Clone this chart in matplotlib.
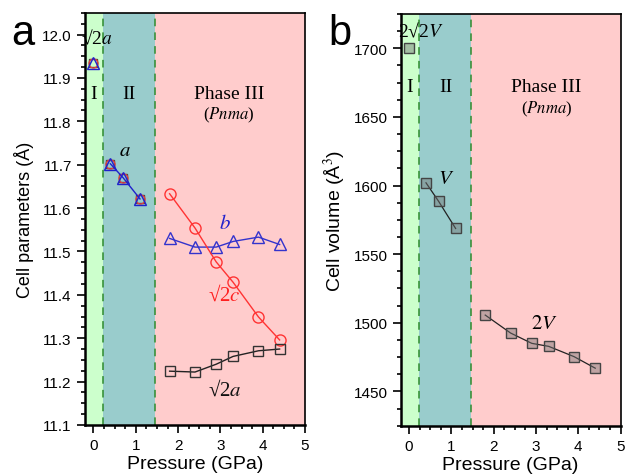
import matplotlib
matplotlib.use("Agg")
import matplotlib.pyplot as plt
from matplotlib.ticker import MultipleLocator

plt.rcParams['font.family'] = ['Liberation Sans', 'DejaVu Sans']
plt.rcParams['mathtext.fontset'] = 'stix'

# ---- data ----
p_I = [0.0]
p_II = [0.4, 0.7, 1.1]
p_III = [1.8, 2.4, 2.9, 3.3, 3.9, 4.4]

a_I = [11.935]
a_II = [11.702, 11.670, 11.621]
b_III = [11.530, 11.510, 11.510, 11.523, 11.533, 11.516]
c_III = [11.633, 11.554, 11.476, 11.429, 11.349, 11.296]
a_III = [11.224, 11.222, 11.240, 11.258, 11.271, 11.275]

V_I = [1700.0]
V_II = [1602.0, 1588.4, 1568.7]
V_III = [1505.6, 1492.5, 1485.0, 1482.8, 1475.3, 1466.9]

bounds = [0.23, 1.46]
xlim = (-0.2, 5.0)

fig = plt.figure(figsize=(6.25, 4.77), dpi=100)
axA = fig.add_axes([0.136, 0.107, 0.352, 0.864])
axB = fig.add_axes([0.641, 0.1055, 0.352, 0.863])

serif = ['Liberation Serif', 'DejaVu Serif']

def setup(ax):
    ax.axvspan(xlim[0], bounds[0], color='#ccffcc', zorder=0, lw=0)
    ax.axvspan(bounds[0], bounds[1], color='#99cccc', zorder=0, lw=0)
    ax.axvspan(bounds[1], xlim[1], color='#ffcccc', zorder=0, lw=0)
    for b in bounds:
        ax.axvline(b, color='#2e8b2e', ls=(0, (5, 4)), lw=1.1, zorder=1)
    ax.set_xlim(*xlim)
    ax.xaxis.set_major_locator(MultipleLocator(1))
    ax.xaxis.set_minor_locator(MultipleLocator(0.25))
    ax.tick_params(which='both', direction='out', labelsize=11, width=1.2, pad=4)
    ax.tick_params(which='major', length=5.5)
    ax.tick_params(which='minor', length=3)
    for s in ['left', 'bottom']:
        ax.spines[s].set_linewidth(1.8)
    for s in ['top', 'right']:
        ax.spines[s].set_linewidth(1.2)
    ax.set_xlabel('Pressure (GPa)', fontsize=14, labelpad=2)

# ---- panel a ----
setup(axA)
axA.set_ylim(11.1, 12.05)
axA.yaxis.set_major_locator(MultipleLocator(0.1))
axA.yaxis.set_minor_locator(MultipleLocator(0.025))
axA.yaxis.set_major_formatter(matplotlib.ticker.FormatStrFormatter('%.1f'))
axA.set_ylabel('Cell parameters (Å)', fontsize=13, labelpad=6)

ms = 7
# phase I and II: all three coincide
for pp, vv, ln in [(p_I, a_I, False), (p_II, a_II, True)]:
    axA.plot(pp, vv, ls='none', marker='s', ms=ms - 1, mfc='none', mec='#444444', mew=1, zorder=3)
    axA.plot(pp, vv, ls='none', marker='o', ms=ms - 0.5, mfc='none', mec='#e04040', mew=1, zorder=3)
    axA.plot(pp, vv, ls='-' if ln else 'none', color='#2020cc', lw=1, marker='^', ms=ms + 1,
             mfc='none', mec='#2020cc', mew=1, zorder=4)

axA.plot(p_III, b_III, '-', color='#3333cc', lw=1, marker='^', ms=ms + 1, mfc='none', mec='#3333cc', mew=1, zorder=4)
axA.plot(p_III, c_III, '-', color='#ff3333', lw=1, marker='o', ms=ms + 1, mfc='none', mec='#ff3333', mew=1, zorder=4)
axA.plot(p_III, a_III, '-', color='#222222', lw=1, marker='s', ms=ms, mfc='none', mec='#333333', mew=1, zorder=4)

axA.text(0.07, 11.993, '√2$a$', family=serif, fontsize=14, ha='center', va='center', zorder=5)
axA.text(0.0, 11.865, 'I', family=serif, fontsize=14, ha='center', va='center')
axA.text(0.84, 11.865, 'II', family=serif, fontsize=14, ha='center', va='center')
axA.text(3.2, 11.865, 'Phase III', family=serif, fontsize=14, ha='center', va='center')
axA.text(3.2, 11.815, '($Pnma$)', family=serif, fontsize=12, ha='center', va='center')
axA.text(0.75, 11.735, '$a$', fontsize=15, ha='center', va='center')
axA.text(3.1, 11.567, '$b$', fontsize=15, ha='center', va='center', color='#2020cc')
axA.text(3.1, 11.40, '√2$c$', family=serif, fontsize=15, ha='center', va='center', color='#ff2020')
axA.text(3.1, 11.183, '√2$a$', family=serif, fontsize=15, ha='center', va='center', color='#111111')

fig.text(0.018, 0.905, 'a', fontsize=30, ha='left', va='baseline')

# ---- panel b ----
setup(axB)
axB.set_ylim(1425, 1725)
axB.yaxis.set_major_locator(MultipleLocator(50))
axB.yaxis.set_minor_locator(MultipleLocator(12.5))
axB.set_ylabel('Cell volume (Å$^3$)', fontsize=14, labelpad=4)

sq = dict(marker='s', ms=7, mfc=(0.45, 0.45, 0.45, 0.45), mec='#444444', mew=1, zorder=4)
axB.plot(p_I, V_I, ls='none', **sq)
axB.plot(p_II, V_II, '-', color='#222222', lw=0.9, **sq)
axB.plot(p_III, V_III, '-', color='#222222', lw=0.9, **sq)

axB.text(0.27, 1713, '2√2$V$', family=serif, fontsize=14, ha='center', va='center', zorder=5)
axB.text(0.0, 1672, 'I', family=serif, fontsize=14, ha='center', va='center')
axB.text(0.88, 1672, 'II', family=serif, fontsize=14, ha='center', va='center')
axB.text(3.25, 1672, 'Phase III', family=serif, fontsize=14, ha='center', va='center')
axB.text(3.25, 1656, '($Pnma$)', family=serif, fontsize=12, ha='center', va='center')
axB.text(0.88, 1606, '$V$', fontsize=15, ha='center', va='center')
axB.text(3.2, 1500, '$2V$', fontsize=15, ha='center', va='center')

fig.text(0.525, 0.905, 'b', fontsize=30, ha='left', va='baseline')

fig.savefig('out.png', dpi=100)
